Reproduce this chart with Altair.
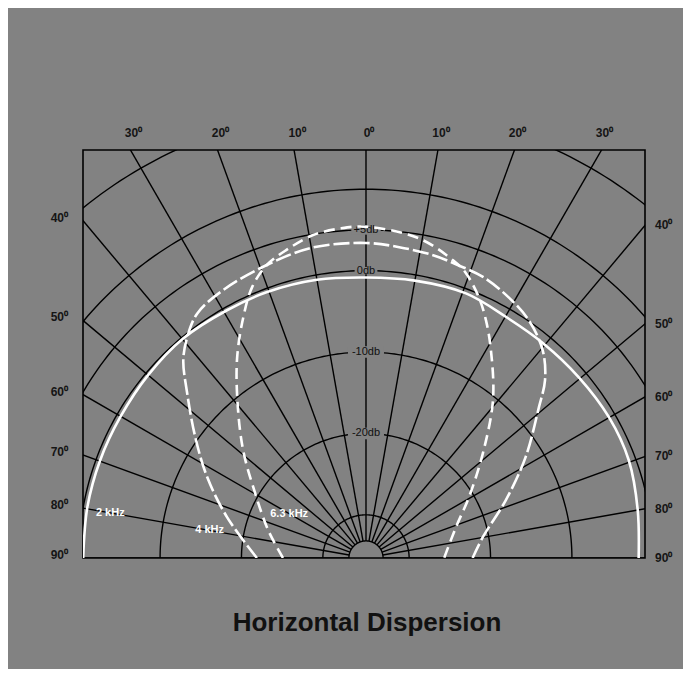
import altair as alt
import numpy as np
import pandas as pd

BG = "#828282"
POLE_DB = -35.3          # level that sits at the pole (centre of the half circle)
XMIN, XMAX, YTOP = -34.77, 34.28, 50.12   # plot frame in the same radial units

# ---- grid ----
ring_db = [-30, -20, -10, 0, 5, 10, 20]
cap_db = -33.2
spoke_angles = list(range(-90, 91, 10))
ring_label_text = ["+5db", "0db", "-10db", "-20db"]
ring_label_db = [5, 0, -10, -20]

top_angles = [-30, -20, -10, 0, 10, 20, 30]
side_angles = [40, 50, 60, 70, 80, 90]

# ---- response curves (angle in degrees, level in dB) ----
k2_angle = [-90, -79.6, -69.8, -60.2, -50.0, -39.8, -29.3, -20.4, -10, 0,
            10, 20.7, 30.2, 39.5, 49.6, 59.9, 69.6, 80.0, 90]
k2_db = [-0.55, -0.5, -0.5, -0.5, -0.35, -0.2, -0.4, -0.45, -0.6, -0.85,
         -0.7, -0.55, -1.05, -1.1, -1.0, -0.8, -0.85, -1.4, -1.8]

k4_angle = [-90, -73.6, -63.0, -54.7, -47.3, -42.7, -39.0, -34.6, -28.1, -18.7, -9.7, 0,
            6.1, 12.5, 17.6, 22.6, 28.7, 34.4, 40.4, 45.2, 48.9, 57.7, 67.5, 79.8, 90]
k4_db = [-21.9, -17.5, -13.4, -9.6, -5.4, -2.2, -0.4, 1.2, 2.0, 2.7, 3.4, 3.4,
         3.1, 2.8, 2.4, 2.1, 1.2, 0.1, -1.8, -4.3, -7.1, -12.1, -16.7, -20.7, -22.2]

k63_angle = [-90, -74.1, -59.6, -48.7, -39.2, -32.7, -27.0, -22.8, -18.7, -14.4, -9.3, -4.5, 0,
             9.4, 16.3, 19.3, 23.4, 26.8, 31.0, 38.8, 48.1, 59.4, 71.0, 90]
k63_db = [-25.1, -22.8, -19.5, -15.2, -10.3, -6.0, -2.1, 0.8, 2.7, 3.8, 4.9, 5.3, 5.4,
          4.5, 2.8, 1.8, -0.4, -2.6, -5.5, -10.4, -16.0, -20.6, -23.6, -25.7]

freq_labels = ["2 kHz", "4 kHz", "6.3 kHz"]
freq_label_angle = [-80, -80, -60]
freq_label_db = [-3.4, -15.8, -24.4]

# ---- frames ----
ring_rows = []
for lvl in ring_db + [cap_db]:
    for a in np.linspace(-90, 90, 181):
        ring_rows.append({"level": lvl, "angle": a, "db": lvl})
rings = pd.DataFrame(ring_rows)

spokes = pd.DataFrame([{"angle": a, "db": d, "k": i}
                       for a in spoke_angles for i, d in enumerate([cap_db, 40])])

ring_labels = pd.DataFrame({"label": ring_label_text, "db": ring_label_db, "angle": 0})
k2 = pd.DataFrame({"angle": k2_angle, "db": k2_db})
k4 = pd.DataFrame({"angle": k4_angle, "db": k4_db})
k63 = pd.DataFrame({"angle": k63_angle, "db": k63_db})
flab = pd.DataFrame({"label": freq_labels, "angle": freq_label_angle, "db": freq_label_db})

top_lab = pd.DataFrame({"angle": top_angles, "label": [f"{abs(a)}\u2070" for a in top_angles]})
left_lab = pd.DataFrame({"angle": side_angles, "label": [f"{a}\u2070" for a in side_angles]})
right_lab = left_lab.copy()

xs = alt.Scale(domain=[XMIN, XMAX], nice=False, zero=False)
ys = alt.Scale(domain=[0, YTOP], nice=False, zero=False)
X = alt.X("x:Q", scale=xs, axis=None)
Y = alt.Y("y:Q", scale=ys, axis=None)

def polar(ch):
    return ch.transform_calculate(
        x=f"(datum.db - ({POLE_DB})) * sin(datum.angle * PI / 180)",
        y=f"(datum.db - ({POLE_DB})) * cos(datum.angle * PI / 180)",
    )

ring_layer = polar(alt.Chart(rings).mark_line(color="black", strokeWidth=1.4, clip=True)).encode(
    x=X, y=Y, detail="level:N", order="angle:Q")
spoke_layer = polar(alt.Chart(spokes).mark_line(color="black", strokeWidth=1.4, clip=True)).encode(
    x=X, y=Y, detail="angle:N", order="k:Q")

knock = polar(alt.Chart(ring_labels).mark_point(
    shape="M-1,-0.32L1,-0.32L1,0.32L-1,0.32Z", filled=True, fill=BG, opacity=1, strokeWidth=0
)).transform_calculate(sz="pow(length(datum.label) * 6.6 + 3, 2)").encode(
    x=X, y=Y, size=alt.Size("sz:Q", scale=None))
ring_text = polar(alt.Chart(ring_labels).mark_text(
    font="Liberation Sans", fontSize=11, color="#111", baseline="middle", align="center"
)).encode(x=X, y=Y, text="label:N")

def curve(df, dash):
    m = dict(color="white", strokeWidth=2.6, interpolate="catmull-rom", clip=True)
    if dash:
        m["strokeDash"] = dash
    return polar(alt.Chart(df).mark_line(**m)).encode(x=X, y=Y, order="angle:Q")

c2 = curve(k2, None)
c4 = curve(k4, [16, 4])
c63 = curve(k63, [11, 6])

flab_layer = polar(alt.Chart(flab).mark_text(
    font="Liberation Sans", fontSize=11, fontWeight="bold", color="white", baseline="middle"
)).encode(x=X, y=Y, text="label:N")

deg_font = dict(font="Liberation Sans", fontSize=12, fontWeight="bold", color="#151515", baseline="middle")
top_layer = alt.Chart(top_lab).mark_text(align="center", dx=3, dy=-17, **deg_font).transform_calculate(
    x=f"{YTOP} * tan(datum.angle * PI / 180)", y=f"{YTOP}").encode(x=X, y=Y, text="label:N")
left_layer = alt.Chart(left_lab).mark_text(align="right", dx=-15, dy=-3, **deg_font).transform_calculate(
    x=f"{XMIN}", y=f"{-XMIN} * cos(datum.angle * PI / 180) / sin(datum.angle * PI / 180)"
).encode(x=X, y=Y, text="label:N")
right_layer = alt.Chart(right_lab).mark_text(align="left", dx=10, dy=0, **deg_font).transform_calculate(
    x=f"{XMAX}", y=f"{XMAX} * cos(datum.angle * PI / 180) / sin(datum.angle * PI / 180)"
).encode(x=X, y=Y, text="label:N")

chart = alt.layer(
    ring_layer, spoke_layer, knock, ring_text, c2, c4, c63, flab_layer,
    top_layer, left_layer, right_layer
).properties(
    width=562, height=408,
    autosize=alt.AutoSizeParams(type="none"),
    padding={"left": 75, "top": 142, "right": 38, "bottom": 111},
    title=alt.TitleParams("Horizontal Dispersion", orient="bottom", offset=46, frame="group",
                          anchor="middle", font="Liberation Sans", fontSize=26,
                          fontWeight="bold", color="#111", dx=3),
).configure(background=BG).configure_view(stroke="black", strokeWidth=1.6)

chart.save("out.html", embed_options={"renderer": "svg", "actions": False})
